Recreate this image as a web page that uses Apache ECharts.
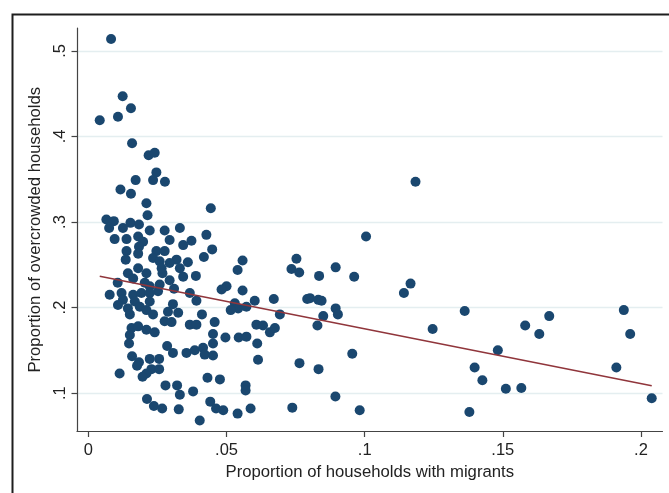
<!DOCTYPE html>
<html><head><meta charset="utf-8">
<script src="https://cdn.jsdelivr.net/npm/echarts@6/dist/echarts.min.js"></script>
<style>html,body{margin:0;padding:0;background:#fff}#c{width:669px;height:493px}</style>
</head><body><div id="c"></div>
<script>
// Proportion of households with migrants (x) vs proportion of overcrowded households (y)
const xValues = [
0.0082,0.0124,0.0154,0.0107,0.0041,0.0158,0.0218,0.0240,0.0246,0.0171,0.0234,0.0277,0.0116,0.0154,0.0210,0.0443,0.0214,0.1184,
0.0065,0.0092,0.0075,0.0125,0.0152,0.0183,0.0222,0.0276,0.0331,0.0427,
0.0095,0.0138,0.0180,0.0198,0.0183,0.0373,0.0343,0.0448,0.0138,0.0180,0.0246,0.0276,0.0418,0.0135,0.0234,0.0258,0.0319,0.0294,0.0558,0.0753,0.1005,
0.0540,0.0735,0.0763,0.0835,0.0895,0.0962,0.0331,0.0343,0.0268,0.0294,0.0143,0.0180,0.0210,0.0162,0.0500,0.0482,0.0558,0.1166,0.1142,0.0077,0.0120,0.0162,0.0222,0.0258,0.0252,0.0192,0.0222,0.0367,
0.0125,0.0168,0.0222,0.0391,0.0107,0.0143,0.0186,0.0210,0.0234,0.0150,0.0306,0.0288,0.0325,0.0530,0.0542,0.0515,0.0572,0.0602,0.0671,0.0693,0.0411,0.0792,0.0802,0.0832,0.0844,0.0850,0.0895,0.0903,0.1362,0.1668,0.1938,
0.0276,0.0301,0.0156,0.0180,0.0150,0.0210,0.0240,0.0367,0.0391,0.0457,0.0451,0.0451,0.0496,0.0544,0.0572,0.0608,0.0632,0.0657,0.0675,0.0611,0.0829,0.1246,0.1581,0.1632,0.1961,0.0147,0.0285,
0.0306,0.0355,0.0385,0.0415,0.0421,0.0451,0.0158,0.0183,0.0176,0.0222,0.0256,0.0228,0.0256,0.0210,0.0196,0.0113,0.0614,0.0764,0.0833,0.0955,0.1482,0.1398,0.1911,0.0431,0.0476,0.1426,
0.0279,0.0321,0.0331,0.0379,0.0569,0.0569,0.0212,0.0237,0.0267,0.0327,0.0441,0.0462,0.0488,0.0540,0.0587,0.0403,0.0738,0.0894,0.0982,0.1379,0.1511,0.1567,0.2039,
0.0294,0.0360,0.0389,0.0106,0.0204,0.0310,0.0265
];
const yValues = [
0.514,0.447,0.433,0.423,0.419,0.392,0.378,0.381,0.358,0.349,0.349,0.347,0.338,0.333,0.322,0.316,0.308,0.347,
0.303,0.301,0.293,0.293,0.299,0.297,0.290,0.290,0.293,0.285,
0.280,0.280,0.283,0.277,0.271,0.278,0.273,0.268,0.266,0.263,0.266,0.266,0.259,0.256,0.258,0.254,0.256,0.252,0.255,0.257,0.283,
0.244,0.245,0.241,0.237,0.247,0.236,0.246,0.236,0.240,0.232,0.240,0.246,0.240,0.234,0.225,0.221,0.220,0.228,0.217,0.215,0.217,0.215,0.225,0.227,0.219,0.217,0.217,0.217,
0.209,0.207,0.207,0.208,0.203,0.199,0.201,0.197,0.192,0.192,0.204,0.195,0.194,0.205,0.199,0.197,0.201,0.208,0.210,0.192,0.192,0.210,0.211,0.209,0.208,0.190,0.199,0.192,0.196,0.190,0.197,
0.184,0.183,0.176,0.178,0.168,0.174,0.171,0.180,0.180,0.183,0.169,0.158,0.165,0.165,0.166,0.180,0.179,0.171,0.176,0.158,0.179,0.175,0.179,0.169,0.169,0.158,0.155,
0.147,0.147,0.150,0.153,0.145,0.144,0.143,0.136,0.132,0.140,0.140,0.128,0.128,0.123,0.119,0.123,0.139,0.135,0.128,0.146,0.150,0.130,0.130,0.118,0.116,0.115,
0.109,0.109,0.098,0.102,0.109,0.103,0.093,0.085,0.082,0.081,0.090,0.082,0.080,0.076,0.082,0.068,0.083,0.096,0.080,0.078,0.105,0.106,0.094,
0.279,0.253,0.237,0.229,0.229,0.222,0.246
];
// Linear fit line endpoints
const fitX = [0.0041, 0.2039];
const fitY = [0.2365, 0.1086];
const xTicks = [0, 0.05, 0.1, 0.15, 0.2];
const yTicks = [0.1, 0.2, 0.3, 0.4, 0.5];
const xTitle = 'Proportion of households with migrants';
const yTitle = 'Proportion of overcrowded households';

const fmt = v => (v === 0 ? '0' : String(v).replace(/^0/, ''));
const FONT = "'Liberation Sans', Arial, sans-serif";
const chart = echarts.init(document.getElementById('c'), null, {renderer: 'canvas'});
const points = xValues.map((x, i) => [x, yValues[i]]);
const fitPts = fitX.map((x, i) => [x, fitY[i]]);

chart.setOption({
  animation: false,
  backgroundColor: '#fff',
  graphic: [{
    type: 'rect', left: 10, top: 12, z: 100, silent: true,
    shape: {x: 0, y: 0, width: 720, height: 520},
    style: {fill: 'none', stroke: '#1e1e1e', lineWidth: 2}
  }],
  grid: {left: 77, top: 28, right: 6.5, bottom: 61.5},
  xAxis: {
    type: 'value', min: -0.00413, max: 0.2078,
    name: xTitle, nameLocation: 'middle', nameGap: 27,
    nameTextStyle: {fontFamily: FONT, fontSize: 16.7, color: '#222'},
    axisLine: {show: true, onZero: false, lineStyle: {color: '#444', width: 1.2}},
    axisTick: {show: true, length: 5.5, customValues: xTicks, lineStyle: {color: '#444', width: 1.2}},
    axisLabel: {customValues: xTicks, formatter: fmt, margin: 10, fontFamily: FONT, fontSize: 16.5, color: '#222'},
    splitLine: {show: false}
  },
  yAxis: {
    type: 'value', min: 0.0551, max: 0.5268,
    name: yTitle, nameLocation: 'middle', nameGap: 30, nameRotate: 90,
    nameTextStyle: {fontFamily: FONT, fontSize: 16.7, color: '#222'},
    axisLine: {show: true, onZero: false, lineStyle: {color: '#444', width: 1.2}},
    axisTick: {show: true, length: 5.5, customValues: yTicks, lineStyle: {color: '#444', width: 1.2}},
    axisLabel: {customValues: yTicks, formatter: fmt, rotate: 90, margin: 8, fontFamily: FONT, fontSize: 16.5, color: '#222'},
    splitLine: {show: true, lineStyle: {color: '#e4eef0', width: 1.3}}
  },
  series: [{
    type: 'scatter', data: points, symbol: 'circle', symbolSize: 10,
    itemStyle: {color: '#1a476f', opacity: 1}, z: 2
  }, {
    type: 'line', data: fitPts, symbol: 'none', z: 3,
    lineStyle: {color: '#90353b', width: 1.5}
  }]
});
</script></body></html>
